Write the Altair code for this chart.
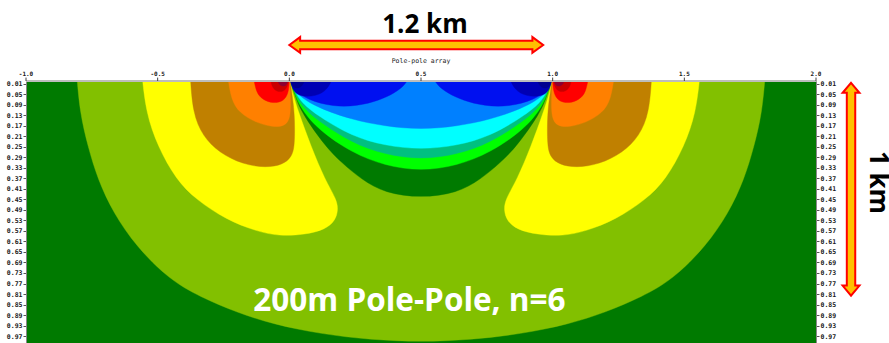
import altair as alt
import pandas as pd

# ---- axis ticks -------------------------------------------------------------
x_ticks = [-1.0, -0.5, 0.0, 0.5, 1.0, 1.5, 2.0]
depth_ticks = [0.01, 0.05, 0.09, 0.13, 0.17, 0.21, 0.25, 0.29, 0.33, 0.37,
               0.41, 0.45, 0.49, 0.53, 0.57, 0.61, 0.65, 0.69, 0.73, 0.77,
               0.81, 0.85, 0.89, 0.93, 0.97]

# ---- sensitivity contour bands: outline vertices (x, depth) -----------------
# vertices with negative depth sit above the ground surface and act as corners
light_green_arc = [(-0.807, -0.1), (-0.807, -0.02), (-0.795, 0.121), (-0.765, 0.248),
                   (-0.727, 0.375), (-0.668, 0.502), (-0.582, 0.628), (-0.456, 0.755),
                   (-0.34, 0.82), (-0.2, 0.88), (-0.06, 0.925), (0.12, 0.962),
                   (0.31, 0.984), (0.5, 0.992), (0.69, 0.984), (0.88, 0.962),
                   (1.06, 0.925), (1.2, 0.88), (1.34, 0.82), (1.456, 0.755),
                   (1.582, 0.628), (1.668, 0.502), (1.727, 0.375), (1.765, 0.248),
                   (1.795, 0.121), (1.807, -0.02), (1.807, -0.1)]

yellow_left = [(-0.559, -0.1), (-0.559, -0.02), (-0.544, 0.121), (-0.5, 0.248),
               (-0.43, 0.375), (-0.354, 0.451), (-0.24, 0.527), (-0.126, 0.571),
               (-0.039, 0.59), (0.06, 0.584), (0.136, 0.565), (0.175, 0.53),
               (0.185, 0.49), (0.18, 0.451), (0.135, 0.375), (0.082, 0.248),
               (0.036, 0.121), (0.01, 0.04), (0.0, -0.02), (0.0, -0.1)]
yellow_right = [(1.559, -0.1), (1.559, -0.02), (1.544, 0.121), (1.5, 0.248),
                (1.43, 0.375), (1.354, 0.451), (1.24, 0.527), (1.126, 0.571),
                (1.039, 0.59), (0.94, 0.584), (0.864, 0.565), (0.825, 0.53),
                (0.815, 0.49), (0.82, 0.451), (0.865, 0.375), (0.918, 0.248),
                (0.964, 0.121), (0.99, 0.04), (1.0, -0.02), (1.0, -0.1)]

brown_left = [(-0.376, -0.1), (-0.376, -0.02), (-0.367, 0.121), (-0.329, 0.21),
              (-0.266, 0.273), (-0.177, 0.317), (-0.088, 0.33), (-0.025, 0.318),
              (0.008, 0.29), (0.021, 0.248), (0.02, 0.121), (0.01, 0.05),
              (0.0, -0.02), (0.0, -0.1)]
brown_right = [(1.376, -0.1), (1.376, -0.02), (1.367, 0.121), (1.329, 0.21),
               (1.266, 0.273), (1.177, 0.317), (1.088, 0.33), (1.025, 0.318),
               (0.992, 0.29), (0.979, 0.248), (0.98, 0.121), (0.99, 0.05),
               (1.0, -0.02), (1.0, -0.1)]

orange_left = [(-0.234, -0.1), (-0.234, -0.02), (-0.221, 0.071), (-0.19, 0.121),
               (-0.126, 0.159), (-0.063, 0.175), (-0.016, 0.172), (0.004, 0.14),
               (0.005, 0.07), (0.0, -0.02), (0.0, -0.1)]
orange_right = [(1.234, -0.1), (1.234, -0.02), (1.221, 0.071), (1.19, 0.121),
                (1.126, 0.159), (1.063, 0.175), (1.016, 0.172), (0.996, 0.14),
                (0.995, 0.07), (1.0, -0.02), (1.0, -0.1)]

red_left = [(-0.137, -0.1), (-0.137, -0.02), (-0.126, 0.045), (-0.101, 0.071),
            (-0.063, 0.086), (-0.019, 0.077), (-0.001, 0.04), (0.0, -0.02), (0.0, -0.1)]
red_right = [(1.137, -0.1), (1.137, -0.02), (1.126, 0.045), (1.101, 0.071),
             (1.063, 0.086), (1.019, 0.077), (1.001, 0.04), (1.0, -0.02), (1.0, -0.1)]

dark_red_left = [(-0.073, -0.1), (-0.073, -0.02), (-0.068, 0.02), (-0.05, 0.04),
                 (-0.025, 0.042), (-0.006, 0.025), (0.0, -0.02), (0.0, -0.1)]
dark_red_right = [(1.073, -0.1), (1.073, -0.02), (1.068, 0.02), (1.05, 0.04),
                  (1.025, 0.042), (1.006, 0.025), (1.0, -0.02), (1.0, -0.1)]

maroon_left = [(-0.048, -0.1), (-0.048, -0.02), (-0.042, 0.012), (-0.025, 0.022),
               (-0.008, 0.016), (-0.002, -0.02), (-0.002, -0.1)]
maroon_right = [(1.048, -0.1), (1.048, -0.02), (1.042, 0.012), (1.025, 0.022),
                (1.008, 0.016), (1.002, -0.02), (1.002, -0.1)]

dark_green_lens = [(0.0, -0.1), (0.0, -0.02), (0.022, 0.058), (0.047, 0.121),
                   (0.136, 0.248), (0.199, 0.311), (0.275, 0.375), (0.363, 0.426),
                   (0.5, 0.445), (0.637, 0.426), (0.725, 0.375), (0.801, 0.311),
                   (0.864, 0.248), (0.953, 0.121), (0.978, 0.058), (1.0, -0.02),
                   (1.0, -0.1)]
green_lens = [(0.0, -0.1), (0.0, -0.02), (0.02, 0.05), (0.047, 0.109), (0.11, 0.185),
              (0.237, 0.273), (0.363, 0.322), (0.5, 0.343), (0.637, 0.322),
              (0.763, 0.273), (0.89, 0.185), (0.953, 0.109), (0.98, 0.05),
              (1.0, -0.02), (1.0, -0.1)]
teal_lens = [(0.0, -0.1), (0.0, -0.02), (0.02, 0.045), (0.047, 0.096), (0.11, 0.153),
             (0.237, 0.235), (0.363, 0.28), (0.5, 0.299), (0.637, 0.28),
             (0.763, 0.235), (0.89, 0.153), (0.953, 0.096), (0.98, 0.045),
             (1.0, -0.02), (1.0, -0.1)]
cyan_lens = [(0.0, -0.1), (0.0, -0.02), (0.02, 0.04), (0.047, 0.083), (0.11, 0.134),
             (0.237, 0.21), (0.363, 0.246), (0.5, 0.261), (0.637, 0.246),
             (0.763, 0.21), (0.89, 0.134), (0.953, 0.083), (0.98, 0.04),
             (1.0, -0.02), (1.0, -0.1)]
light_blue_lens = [(0.0, -0.1), (0.0, -0.02), (0.02, 0.035), (0.047, 0.064),
                   (0.11, 0.102), (0.237, 0.147), (0.363, 0.172), (0.5, 0.185),
                   (0.637, 0.172), (0.763, 0.147), (0.89, 0.102), (0.953, 0.064),
                   (0.98, 0.035), (1.0, -0.02), (1.0, -0.1)]

blue_left = [(0.0, -0.1), (0.0, -0.02), (0.02, 0.035), (0.07, 0.072), (0.166, 0.098),
             (0.26, 0.095), (0.34, 0.074), (0.40, 0.046), (0.44, 0.015),
             (0.458, -0.02), (0.458, -0.1)]
blue_right = [(1.0, -0.1), (1.0, -0.02), (0.98, 0.035), (0.93, 0.072), (0.834, 0.098),
              (0.74, 0.095), (0.66, 0.074), (0.60, 0.046), (0.56, 0.015),
              (0.542, -0.02), (0.542, -0.1)]

dark_blue_left = [(0.0, -0.1), (0.0, -0.02), (0.012, 0.04), (0.045, 0.06), (0.1, 0.058),
                  (0.145, 0.035), (0.168, -0.02), (0.168, -0.1)]
dark_blue_right = [(1.0, -0.1), (1.0, -0.02), (0.988, 0.04), (0.955, 0.06), (0.9, 0.058),
                   (0.855, 0.035), (0.832, -0.02), (0.832, -0.1)]

navy_left = [(0.002, -0.1), (0.002, -0.02), (0.008, 0.02), (0.028, 0.03), (0.05, 0.022),
             (0.065, -0.02), (0.065, -0.1)]
navy_right = [(0.998, -0.1), (0.998, -0.02), (0.992, 0.02), (0.972, 0.03), (0.95, 0.022),
              (0.935, -0.02), (0.935, -0.1)]

# ---- scale-bar arrows (x, depth) --------------------------------------------
arrow_span = [(0.0, -0.137), (0.041, -0.167), (0.041, -0.153), (0.923, -0.153),
              (0.923, -0.167), (0.964, -0.137), (0.923, -0.107), (0.923, -0.121),
              (0.041, -0.121), (0.041, -0.107)]
arrow_depth = [(2.133, 0.007), (2.165, 0.045), (2.149, 0.045), (2.149, 0.778),
               (2.165, 0.778), (2.133, 0.816), (2.101, 0.778), (2.117, 0.778),
               (2.117, 0.045), (2.101, 0.045)]

# ---- colours ----------------------------------------------------------------
BG_GREEN = "#007A00"
bands = [
    (light_green_arc, "#82C000"),
    (yellow_left, "#FFFF00"), (yellow_right, "#FFFF00"),
    (brown_left, "#C08000"), (brown_right, "#C08000"),
    (orange_left, "#FF8000"), (orange_right, "#FF8000"),
    (red_left, "#FF0000"), (red_right, "#FF0000"),
    (dark_red_left, "#C80000"), (dark_red_right, "#C80000"),
    (maroon_left, "#8C0032"), (maroon_right, "#8C0032"),
    (dark_green_lens, BG_GREEN),
    (green_lens, "#00FF00"),
    (teal_lens, "#00C080"),
    (cyan_lens, "#00FFFF"),
    (light_blue_lens, "#0080FF"),
    (blue_left, "#0010F0"), (blue_right, "#0010F0"),
    (dark_blue_left, "#0000B4"), (dark_blue_right, "#0000B4"),
    (navy_left, "#000090"), (navy_right, "#000090"),
]

xs = alt.Scale(domain=[-1.0, 2.0], nice=False, zero=False)
ys = alt.Scale(domain=[0.0, 0.9962], nice=False, zero=False, reverse=True)
X_PLAIN = alt.X("x:Q", scale=xs, axis=None)
Y_PLAIN = alt.Y("d:Q", scale=ys, axis=None)


def outline(pts, corners=False):
    # for the B-spline outlines, repeat the above-surface vertices so the
    # curve passes through them as sharp corners
    seq = []
    for p in pts:
        seq.extend([p] * (3 if corners and p[1] < 0 else 1))
    return pd.DataFrame({"x": [p[0] for p in seq],
                         "d": [p[1] for p in seq],
                         "i": list(range(len(seq)))})


def band_layer(pts, color):
    return alt.Chart(outline(pts, corners=True)).mark_line(
        fill=color, stroke=color, strokeWidth=0.4,
        interpolate="basis-closed", clip=True
    ).encode(x=X_PLAIN, y=Y_PLAIN, order=alt.Order("i:Q"))


def arrow_layer(pts):
    return alt.Chart(outline(pts)).mark_line(
        fill="#FFC000", stroke="#FF0000", strokeWidth=2,
        interpolate="linear-closed", strokeJoin="miter", clip=False
    ).encode(x=X_PLAIN, y=Y_PLAIN, order=alt.Order("i:Q"))


MONO = "DejaVu Sans Mono"
axis_style = dict(labelFont=MONO, labelColor="#202020", labelFontWeight="bold",
                  tickColor="#555555", tickSize=3, grid=False, title=None)

frame_pts = pd.DataFrame({"x": [-1.0, 2.0], "d": [0.0, 0.9962]})

# depth axes on both sides
frame_left = alt.Chart(frame_pts).mark_point(opacity=0).encode(
    x=X_PLAIN,
    y=alt.Y("d:Q", scale=ys, axis=alt.Axis(
        orient="left", values=depth_ticks, format=".2f", labelFontSize=6.5,
        labelPadding=1, domainColor="#888888", domainWidth=1, **axis_style)),
)
frame_right = alt.Chart(frame_pts).mark_point(opacity=0).encode(
    x=X_PLAIN,
    y=alt.Y("d:Q", scale=ys, axis=alt.Axis(
        orient="right", values=depth_ticks, format=".2f", labelFontSize=6.5,
        labelPadding=1, domainColor="#888888", domainWidth=1, **axis_style)),
)

# distance axis along the ground surface: rail, ticks and labels
top_rail = alt.Chart(pd.DataFrame({"x": [-1.0], "x2": [2.0], "d": [0.0]})).mark_rule(
    color="#BDBDBD", strokeWidth=2, clip=False
).encode(x=X_PLAIN, x2="x2:Q", y=Y_PLAIN)
tick_df = pd.DataFrame({"x": x_ticks, "d": [-0.013] * len(x_ticks),
                        "d2": [0.0] * len(x_ticks),
                        "t": [f"{v:.1f}" for v in x_ticks]})
top_ticks = alt.Chart(tick_df).mark_rule(color="#444444", strokeWidth=1, clip=False).encode(
    x=X_PLAIN, y=Y_PLAIN, y2="d2:Q")
top_labels = alt.Chart(tick_df).mark_text(
    font=MONO, fontSize=6, fontWeight="bold", color="#202020",
    baseline="alphabetic", dy=-1.5, clip=False
).encode(x=X_PLAIN, y=Y_PLAIN, text="t:N")


def label(x, d, text, **kw):
    df = pd.DataFrame({"x": [x], "d": [d], "t": [text]})
    return alt.Chart(df).mark_text(clip=False, **kw).encode(
        x=X_PLAIN, y=Y_PLAIN, text="t:N")


title = label(0.5, -0.068, "Pole-pole array", font=MONO, fontSize=6.5,
              color="#222222", align="center", baseline="alphabetic")
span_text = label(0.515, -0.182, "1.2 km", font="Open Sans", fontSize=26,
                  fontWeight="bold", color="#000000", align="center",
                  baseline="alphabetic")
depth_text = label(2.205, 0.386, "1 km", font="Open Sans", fontSize=26,
                   fontWeight="bold", color="#000000", align="center",
                   baseline="alphabetic", angle=90)
caption = label(0.456, 0.876, "200m Pole-Pole, n=6", font="Open Sans", fontSize=31.5,
                fontWeight="bold", color="#FFFFFF", align="center",
                baseline="alphabetic")

layers = [frame_left, frame_right]
layers += [band_layer(p, c) for p, c in bands]
layers += [top_rail, top_ticks, top_labels, title,
           arrow_layer(arrow_span), arrow_layer(arrow_depth),
           span_text, depth_text, caption]

chart = alt.layer(*layers).resolve_axis(y="independent").properties(
    width=790, height=262,
    autosize=alt.AutoSizeParams(type="none"),
    padding={"left": 26, "top": 81, "right": 73, "bottom": 0},
).configure(background="#FFFFFF").configure_view(fill=BG_GREEN, stroke="transparent")

chart.save("out.html", embed_options={"renderer": "svg", "actions": False})
